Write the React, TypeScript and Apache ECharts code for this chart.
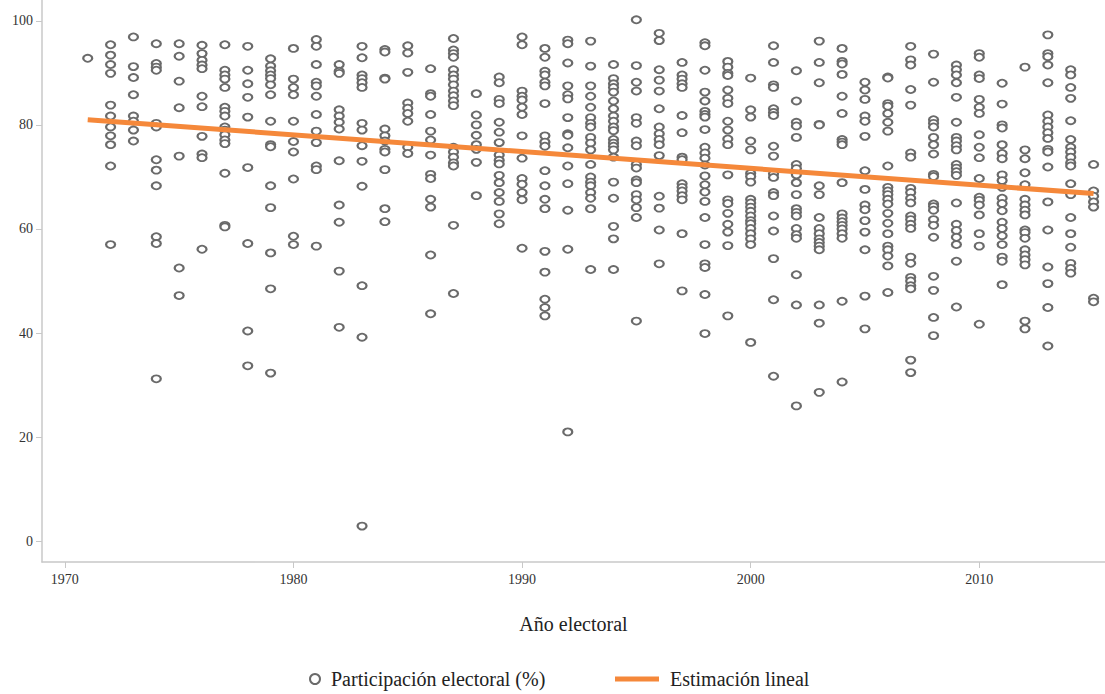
import React, { useEffect, useRef } from "react";
import * as echarts from "echarts";

// Turnout (%) per electoral year
const t1971 = [92.8];
const t1972 = [95.4, 93.4, 91.6, 89.9, 83.8, 81.7, 79.6, 77.9, 76.2, 72.1, 57.0];
const t1973 = [96.9, 91.2, 89.1, 85.8, 81.7, 80.7, 79.0, 76.9];
const t1974 = [95.6, 91.8, 91.1, 90.5, 80.3, 79.6, 73.3, 71.3, 68.3, 58.5, 57.2, 31.2];
const t1975 = [95.6, 93.2, 88.4, 83.3, 74.0, 52.5, 47.2];
const t1976 = [95.3, 93.7, 92.4, 91.5, 90.8, 85.5, 83.5, 77.8, 74.4, 73.7, 56.1];
const t1977 = [95.4, 90.5, 89.6, 88.8, 87.2, 83.4, 82.6, 81.7, 79.6, 79.0, 78.1, 77.1, 76.4, 70.7, 60.7, 60.4];
const t1978 = [95.1, 90.5, 87.9, 85.3, 81.5, 71.8, 57.2, 40.4, 33.7];
const t1979 = [92.7, 91.3, 90.4, 89.6, 88.9, 87.7, 85.8, 80.7, 76.2, 75.8, 68.3, 64.1, 55.4, 48.5, 32.3];
const t1980 = [94.7, 88.8, 87.2, 85.8, 80.7, 76.8, 74.8, 69.6, 58.6, 57.0];
const t1981 = [96.4, 95.1, 91.6, 88.2, 87.5, 85.5, 82.0, 78.8, 76.6, 72.1, 71.4, 56.7];
const t1982 = [91.6, 90.3, 89.9, 82.9, 81.7, 80.5, 79.2, 73.1, 64.6, 61.3, 51.9, 41.1];
const t1983 = [95.1, 92.9, 89.6, 88.9, 88.1, 87.2, 80.3, 79.0, 76.0, 73.0, 68.2, 49.1, 39.2, 2.9];
const t1984 = [94.5, 94.0, 89.0, 88.8, 79.2, 77.9, 76.9, 75.3, 74.8, 71.4, 63.9, 61.4];
const t1985 = [95.2, 93.8, 90.1, 84.2, 83.2, 82.2, 80.7, 75.7, 74.5];
const t1986 = [90.8, 86.0, 85.5, 82.0, 78.8, 77.1, 74.2, 70.5, 69.7, 65.7, 64.2, 55.0, 43.7];
const t1987 = [96.6, 94.4, 93.7, 93.0, 90.6, 89.6, 88.8, 87.7, 86.5, 85.6, 84.6, 83.7, 75.7, 74.8, 73.8, 72.7, 72.1, 60.7, 47.6];
const t1988 = [86.0, 81.9, 80.0, 78.0, 76.2, 75.3, 72.8, 66.4];
const t1989 = [89.2, 88.1, 84.9, 84.1, 80.5, 78.6, 76.6, 74.2, 73.2, 72.5, 70.3, 68.9, 67.0, 65.3, 62.9, 61.0];
const t1990 = [96.9, 95.4, 86.5, 85.5, 84.8, 83.4, 82.0, 77.9, 73.6, 69.7, 68.6, 67.0, 65.6, 56.3];
const t1991 = [94.7, 93.0, 90.3, 89.6, 88.2, 87.5, 84.1, 77.9, 76.7, 75.9, 71.2, 68.3, 65.7, 63.9, 55.7, 51.7, 46.5, 44.9, 43.3];
const t1992 = [96.3, 95.6, 91.9, 87.5, 85.8, 85.0, 81.4, 78.3, 78.0, 75.6, 72.1, 68.7, 63.6, 56.1, 21.0];
const t1993 = [96.1, 91.3, 87.5, 85.5, 83.4, 81.4, 80.3, 79.6, 77.6, 76.5, 75.2, 72.4, 70.0, 69.0, 68.3, 67.0, 65.9, 63.9, 52.2];
const t1994 = [91.6, 88.9, 87.9, 87.2, 86.3, 84.6, 83.1, 81.7, 80.7, 79.6, 78.9, 77.2, 76.5, 75.9, 75.2, 73.8, 69.0, 65.9, 60.5, 58.1, 52.2];
const t1995 = [100.2, 91.4, 88.2, 86.5, 81.4, 80.3, 76.9, 76.0, 72.4, 71.7, 69.4, 68.9, 66.6, 65.6, 64.1, 62.2, 42.3];
const t1996 = [97.6, 96.2, 90.6, 88.6, 86.5, 83.1, 79.6, 78.3, 77.2, 76.2, 74.1, 66.3, 64.0, 59.8, 53.3];
const t1997 = [92.0, 89.6, 88.8, 87.9, 87.2, 81.8, 78.5, 73.8, 73.3, 68.7, 68.0, 67.3, 66.4, 65.6, 59.1, 48.1];
const t1998 = [95.8, 95.2, 90.5, 86.3, 84.6, 82.6, 82.0, 81.5, 79.1, 75.7, 74.6, 73.6, 72.3, 70.2, 68.5, 67.1, 65.3, 62.2, 57.0, 53.3, 52.6, 47.4, 39.9];
const t1999 = [92.2, 91.1, 89.9, 89.5, 86.7, 85.1, 84.1, 80.7, 79.0, 77.3, 76.2, 70.4, 65.6, 64.9, 63.0, 60.9, 59.4, 56.8, 43.3];
const t2000 = [89.0, 82.9, 81.5, 76.9, 75.2, 70.7, 70.1, 69.0, 65.7, 65.0, 64.2, 63.4, 62.5, 61.6, 61.0, 60.1, 59.1, 58.1, 57.0, 38.2];
const t2001 = [95.2, 92.0, 87.7, 87.2, 83.1, 82.4, 81.8, 75.9, 74.0, 70.6, 69.9, 67.0, 66.4, 62.5, 59.6, 54.3, 46.4, 31.7];
const t2002 = [90.4, 84.6, 80.5, 79.8, 77.6, 72.4, 71.6, 70.4, 68.9, 66.6, 63.9, 63.2, 62.5, 60.1, 58.9, 58.2, 51.2, 45.4, 26.0];
const t2003 = [96.1, 92.0, 88.1, 80.1, 80.0, 68.3, 66.6, 62.2, 60.1, 59.1, 58.1, 57.4, 56.7, 56.0, 45.4, 41.9, 28.6];
const t2004 = [94.7, 92.2, 91.7, 89.7, 85.5, 82.2, 77.2, 76.7, 76.2, 68.9, 62.9, 62.1, 61.4, 60.7, 60.0, 59.1, 58.2, 46.1, 30.6];
const t2005 = [88.2, 86.7, 84.9, 81.7, 80.7, 77.8, 71.2, 67.6, 64.6, 63.7, 61.6, 59.4, 56.0, 47.1, 40.8];
const t2006 = [89.2, 89.0, 84.1, 83.6, 82.2, 80.5, 78.8, 72.1, 68.0, 67.3, 66.6, 65.7, 64.8, 63.0, 61.1, 59.1, 56.7, 56.0, 54.8, 52.9, 47.8];
const t2007 = [95.1, 92.5, 91.5, 86.8, 83.8, 74.6, 73.8, 67.8, 67.0, 65.9, 65.0, 62.5, 61.8, 60.9, 60.1, 54.6, 53.4, 50.7, 50.0, 49.1, 48.5, 34.8, 32.4];
const t2008 = [93.6, 88.2, 81.0, 80.3, 79.6, 77.6, 76.2, 74.4, 70.5, 70.1, 64.8, 64.3, 63.6, 61.8, 60.7, 58.4, 50.9, 48.2, 43.0, 39.5];
const t2009 = [91.5, 90.6, 89.6, 88.1, 85.3, 80.5, 77.6, 76.9, 76.0, 75.2, 72.4, 71.7, 71.0, 70.3, 65.0, 60.9, 59.7, 58.4, 57.0, 53.8, 45.0];
const t2010 = [93.7, 93.0, 89.6, 88.9, 84.9, 83.4, 82.2, 78.1, 75.7, 73.7, 69.7, 66.1, 65.5, 64.6, 62.7, 59.1, 56.7, 41.7];
const t2011 = [88.0, 84.0, 80.0, 79.4, 76.2, 74.5, 73.5, 70.4, 69.3, 68.0, 65.9, 64.9, 63.5, 61.3, 60.1, 58.7, 57.0, 54.6, 53.8, 49.3];
const t2012 = [91.1, 75.2, 73.5, 70.8, 68.5, 65.7, 64.6, 63.6, 62.7, 59.8, 59.3, 58.2, 56.0, 55.0, 54.1, 53.1, 42.3, 40.8];
const t2013 = [97.3, 93.7, 93.1, 91.5, 88.1, 81.9, 80.7, 79.6, 78.5, 77.4, 75.3, 74.8, 71.9, 65.2, 59.8, 52.7, 49.5, 44.9, 37.5];
const t2014 = [90.6, 89.6, 87.2, 85.1, 80.8, 77.2, 75.7, 74.8, 73.8, 72.7, 72.1, 68.7, 66.6, 62.2, 59.1, 56.5, 53.4, 52.4, 51.5];
const t2015 = [72.4, 67.3, 66.3, 65.2, 64.2, 46.7, 46.0];

const years = [
  1971, 1972, 1973, 1974, 1975, 1976, 1977, 1978, 1979, 1980, 1981, 1982, 1983, 1984, 1985,
  1986, 1987, 1988, 1989, 1990, 1991, 1992, 1993, 1994, 1995, 1996, 1997, 1998, 1999, 2000,
  2001, 2002, 2003, 2004, 2005, 2006, 2007, 2008, 2009, 2010, 2011, 2012, 2013, 2014, 2015,
];
const turnoutLists = [
  t1971, t1972, t1973, t1974, t1975, t1976, t1977, t1978, t1979, t1980, t1981, t1982, t1983, t1984, t1985,
  t1986, t1987, t1988, t1989, t1990, t1991, t1992, t1993, t1994, t1995, t1996, t1997, t1998, t1999, t2000,
  t2001, t2002, t2003, t2004, t2005, t2006, t2007, t2008, t2009, t2010, t2011, t2012, t2013, t2014, t2015,
];

// Linear estimate endpoints
const trendYears = [1971, 2015];
const trendValues = [81.0, 66.8];

const xTicks = [1970, 1980, 1990, 2000, 2010];
const yTicks = [0, 20, 40, 60, 80, 100];

const FONT = "'Liberation Serif', 'DejaVu Serif', serif";
const SCATTER_NAME = "Participación electoral (%)";
const LINE_NAME = "Estimación lineal";

export default function App() {
  const ref = useRef<HTMLDivElement>(null);

  useEffect(() => {
    if (!ref.current) return;
    const chart = echarts.init(ref.current, undefined, { renderer: "svg" });

    const scatterData: [number, number][] = [];
    years.forEach((yr, i) => {
      turnoutLists[i].forEach((v) => scatterData.push([yr, v]));
    });
    const trendData = trendYears.map((yr, i) => [yr, trendValues[i]]);

    const axisColor = "#c8c8c8";
    const pointColor = "#6a6a6a";
    const orange = "#f5883a";
    const legendText = { fontFamily: FONT, fontSize: 20, color: "#222", padding: [0, 0, 0, 6] };

    chart.setOption({
      animation: false,
      textStyle: { fontFamily: FONT },
      grid: { left: 42, right: 0, top: 0, bottom: 132, containLabel: false },
      legend: [
        {
          left: 304,
          top: 664,
          itemWidth: 10,
          itemHeight: 10,
          textStyle: legendText,
          data: [{ name: SCATTER_NAME, icon: "emptyCircle" }],
        },
        {
          left: 610,
          top: 664,
          itemWidth: 44,
          itemHeight: 5,
          textStyle: legendText,
          data: [{ name: LINE_NAME, icon: "rect", itemStyle: { color: orange } }],
        },
      ],
      xAxis: {
        type: "value",
        min: 1969,
        max: 2015.5,
        name: "Año electoral",
        nameLocation: "middle",
        nameGap: 52,
        nameTextStyle: { fontFamily: FONT, fontSize: 20, color: "#222" },
        splitLine: { show: false },
        axisLine: { show: true, onZero: false, lineStyle: { color: axisColor, width: 1.5 } },
        axisTick: { show: true, length: 6, customValues: xTicks, lineStyle: { color: axisColor } },
        axisLabel: {
          customValues: xTicks,
          formatter: (v: number) => String(v),
          fontFamily: FONT,
          fontSize: 14,
          color: "#333",
          margin: 10,
        },
      },
      yAxis: {
        type: "value",
        min: -4,
        max: 104,
        splitLine: { show: false },
        axisLine: { show: true, onZero: false, lineStyle: { color: axisColor, width: 1.5 } },
        axisTick: { show: true, length: 6, customValues: yTicks, lineStyle: { color: axisColor } },
        axisLabel: {
          customValues: yTicks,
          formatter: (v: number) => String(v),
          fontFamily: FONT,
          fontSize: 14,
          color: "#333",
          margin: 9,
        },
      },
      series: [
        {
          name: SCATTER_NAME,
          type: "scatter",
          data: scatterData,
          symbol: "emptyCircle",
          symbolSize: [9, 7],
          itemStyle: { color: pointColor, borderWidth: 1.4, opacity: 1 },
          emphasis: { disabled: true },
        },
        {
          name: LINE_NAME,
          type: "line",
          data: trendData,
          showSymbol: false,
          symbol: "none",
          lineStyle: { color: orange, width: 5 },
          itemStyle: { color: orange },
          z: 5,
        },
      ],
    });

    return () => chart.dispose();
  }, []);

  return (
    <div
      ref={ref}
      style={{ position: "fixed", left: 0, top: 0, width: 1105, height: 694, background: "#fff" }}
    />
  );
}
